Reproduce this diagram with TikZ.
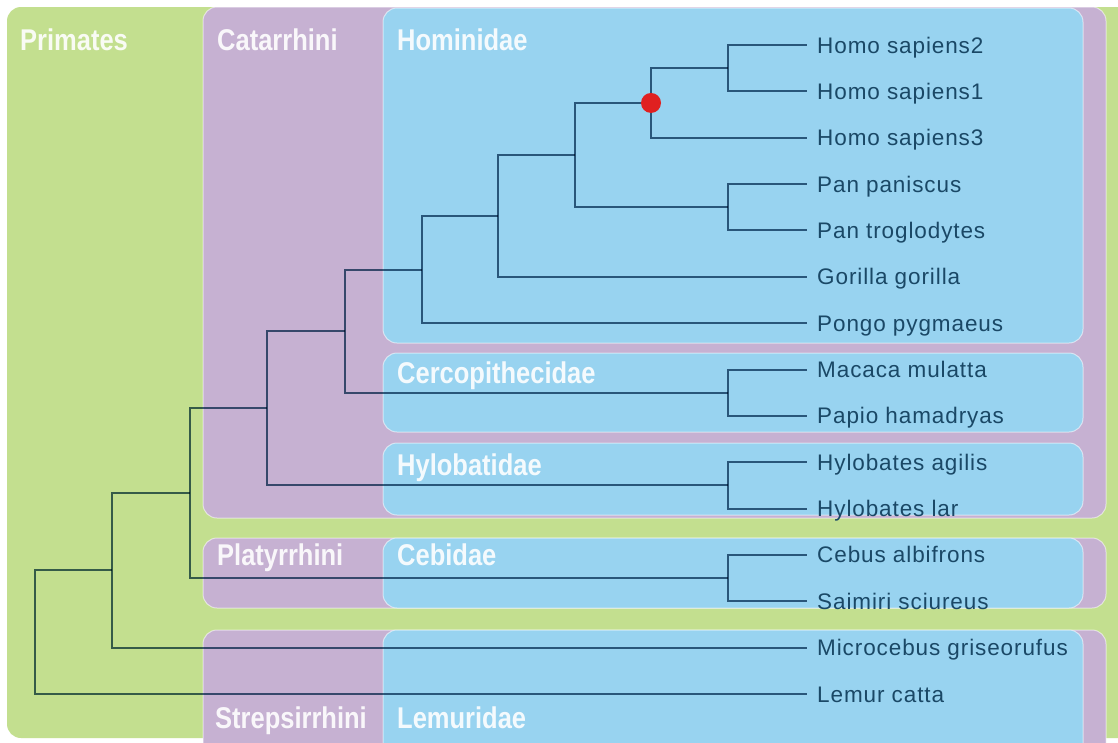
\documentclass[tikz,border=0pt]{standalone}
\usepackage{fontspec}
\newfontfamily\leaffont[LetterSpace=4]{Liberation Sans}
\newfontfamily\titlefont[FakeStretch=0.85]{Liberation Sans}
\definecolor{grn}{RGB}{195,223,143}
\definecolor{pur}{RGB}{198,177,210}
\definecolor{blu}{RGB}{152,211,240}
\definecolor{lbl}{RGB}{26,72,102}
\definecolor{ln}{RGB}{70,105,130}
\definecolor{dot}{RGB}{224,32,32}
\begin{document}
\begin{tikzpicture}[x=1pt,y=-1pt,
  panel/.style={rounded corners=14pt, draw=white, draw opacity=0.55, line width=1pt},
  title/.style={anchor=base west, inner sep=0pt, text=white, text opacity=0.9, font=\titlefont\bfseries\fontsize{30}{34}\selectfont},
  leaf/.style={anchor=west, inner xsep=10pt, inner ysep=0pt, text height=16pt, text depth=0pt, text=lbl, font=\leaffont\fontsize{22.5}{26}\selectfont},
  branch/.style={line width=2pt, draw=ln}
]
\useasboundingbox (0,0) rectangle (1118,742);
\clip (0,0) rectangle (1118,742);
\fill[white] (0,0) rectangle (1118,742);

% panels
\fill[grn, rounded corners=14pt] (7,7) rectangle (1150,738);
\path[panel, fill=pur] (203,7) rectangle (1106,518);
\path[panel, fill=blu] (383,8) rectangle (1083,343);
\path[panel, fill=blu] (383,353) rectangle (1083,432);
\path[panel, fill=blu] (383,443) rectangle (1083,515);
\path[panel, fill=pur] (203,538) rectangle (1106,608);
\path[panel, fill=blu] (383,538) rectangle (1083,608);
\path[panel, fill=pur] (203,630) rectangle (1106,770);
\path[panel, fill=blu] (383,630) rectangle (1083,770);

% group titles
\node[title] (tprim) at (20,50) {Primates};
\node[title] (tcat) at (217,50) {Catarrhini};
\node[title] (thom) at (397,50) {Hominidae};
\node[title] (tcer) at (397,383) {Cercopithecidae};
\node[title] (thyl) at (397,475) {Hylobatidae};
\node[title] (tpla) at (217,565) {Platyrrhini};
\node[title] (tceb) at (397,565) {Cebidae};
\node[title] (tstr) at (215,728) {Strepsirrhini};
\node[title] (tlem) at (397,728) {Lemuridae};

% leaves
\node[leaf] (hs2) at (807,45.00) {Homo sapiens2};
\node[leaf] (hs1) at (807,91.36) {Homo sapiens1};
\node[leaf] (hs3) at (807,137.71) {Homo sapiens3};
\node[leaf] (ppa) at (807,184.07) {Pan paniscus};
\node[leaf] (ptr) at (807,230.43) {Pan troglodytes};
\node[leaf] (ggo) at (807,276.79) {Gorilla gorilla};
\node[leaf] (ppy) at (807,323.14) {Pongo pygmaeus};
\node[leaf] (mmu) at (807,369.50) {Macaca mulatta};
\node[leaf] (pha) at (807,415.86) {Papio hamadryas};
\node[leaf] (hag) at (807,462.21) {Hylobates agilis};
\node[leaf] (hla) at (807,508.57) {Hylobates lar};
\node[leaf] (cal) at (807,554.93) {Cebus albifrons};
\node[leaf] (ssc) at (807,601.29) {Saimiri sciureus};
\node[leaf] (mgr) at (807,647.64) {Microcebus griseorufus};
\node[leaf] (lca) at (807,694.00) {Lemur catta};

% internal nodes
\coordinate (hs21) at (728,68.18);
\coordinate (homo) at (651,102.95);
\coordinate (pan)  at (728,207.25);
\coordinate (hp)   at (575,155.10);
\coordinate (hpg)  at (498,215.95);
\coordinate (homi) at (422,269.55);
\coordinate (cerc) at (728,392.68);
\coordinate (hc)   at (345,331.10);
\coordinate (hylo) at (728,485.39);
\coordinate (cat)  at (267,408.25);
\coordinate (ceb)  at (728,578.11);
\coordinate (sim)  at (190,493.18);
\coordinate (hap)  at (112,570.41);
\coordinate (root) at (35,632.20);

\begin{scope}[blend mode=multiply]
\draw[branch] (hs21) |- (hs2.west);
\draw[branch] (hs21) |- (hs1.west);
\draw[branch] (homo) |- (hs21);
\draw[branch] (homo) |- (hs3.west);
\draw[branch] (pan) |- (ppa.west);
\draw[branch] (pan) |- (ptr.west);
\draw[branch] (hp) |- (homo);
\draw[branch] (hp) |- (pan);
\draw[branch] (hpg) |- (hp);
\draw[branch] (hpg) |- (ggo.west);
\draw[branch] (homi) |- (hpg);
\draw[branch] (homi) |- (ppy.west);
\draw[branch] (cerc) |- (mmu.west);
\draw[branch] (cerc) |- (pha.west);
\draw[branch] (hc) |- (homi);
\draw[branch] (hc) |- (cerc);
\draw[branch] (hylo) |- (hag.west);
\draw[branch] (hylo) |- (hla.west);
\draw[branch] (cat) |- (hc);
\draw[branch] (cat) |- (hylo);
\draw[branch] (ceb) |- (cal.west);
\draw[branch] (ceb) |- (ssc.west);
\draw[branch] (sim) |- (cat);
\draw[branch] (sim) |- (ceb);
\draw[branch] (hap) |- (sim);
\draw[branch] (hap) |- (mgr.west);
\draw[branch] (root) |- (hap);
\draw[branch] (root) |- (lca.west);
\end{scope}

\node[circle, fill=dot, minimum size=20pt, inner sep=0pt] (mrca) at (homo) {};
\end{tikzpicture}
\end{document}
